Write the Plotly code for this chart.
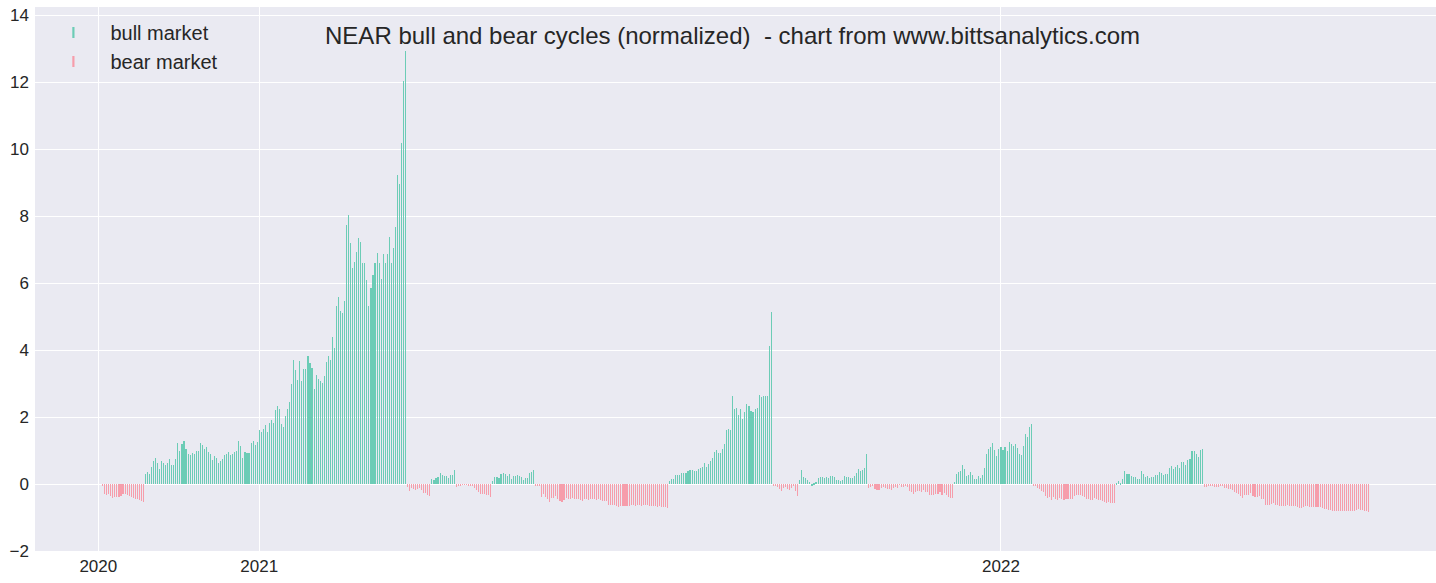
import pandas as pd
import plotly.graph_objects as go

# ---------------- data ----------------
start_date = "2020-10-16"

bear_1 = [-0.04, -0.30, -0.32, -0.30, -0.35, -0.42, -0.40, -0.38, -0.40, -0.36, -0.30,
          -0.30, -0.34, -0.37, -0.40, -0.43, -0.45, -0.46, -0.48, -0.50, -0.55]
bull_1 = [0.29, 0.35, 0.29, 0.52, 0.68, 0.77, 0.62, 0.45, 0.68, 0.62, 0.56, 0.62, 0.74, 0.56,
          0.58, 0.76, 1.24, 1.00, 1.19, 1.30, 1.06, 0.89, 0.86, 0.92, 0.89, 1.00, 1.00, 1.22,
          1.16, 1.06, 1.10, 0.95, 0.89, 0.73, 0.85, 0.79, 0.62, 0.70, 0.76, 0.86, 0.90, 0.95,
          0.86, 0.90, 0.95, 0.98, 1.30, 1.15, 0.79, 0.97, 0.92, 0.92, 1.24, 1.30, 1.18, 1.26,
          1.60, 1.55, 1.64, 1.76, 1.55, 1.82, 1.91, 1.82, 2.21, 2.33, 2.24, 1.79, 1.70, 2.03,
          2.24, 2.45, 2.99, 3.70, 3.40, 3.10, 3.67, 3.07, 3.43, 3.43, 3.82, 3.61, 3.46, 2.83,
          3.25, 3.13, 3.07, 3.01, 3.22, 3.64, 3.82, 3.70, 4.38, 4.06, 5.31, 5.58, 5.16, 5.10,
          5.46, 7.73, 8.03, 7.19, 6.45, 6.63, 6.93, 7.34, 7.22, 6.60, 6.60, 6.09, 5.31, 5.85,
          6.24, 6.60, 6.90, 6.60, 6.13, 6.87, 6.60, 6.87, 7.38, 6.60, 7.04, 7.67, 9.22, 8.96,
          10.20, 12.03, 12.93]
bear_2 = [-0.09, -0.21, -0.12, -0.15, -0.18, -0.15, -0.12, -0.18, -0.27, -0.27, -0.33, -0.36]
bull_2 = [0.15, 0.12, 0.18, 0.21, 0.33, 0.27, 0.24, 0.24, 0.18, 0.27, 0.27, 0.42]
bear_3 = [-0.09, -0.03, -0.03, -0.01, -0.005, -0.005, -0.03, -0.06, -0.04, -0.12, -0.18, -0.24,
          -0.30, -0.30, -0.30, -0.33, -0.33, -0.39]
bull_3 = [0.09, 0.21, 0.21, 0.18, 0.30, 0.33, 0.30, 0.24, 0.30, 0.15, 0.24, 0.24, 0.27, 0.24,
          0.21, 0.12, 0.18, 0.18, 0.33, 0.36, 0.42]
bear_4 = [-0.03, -0.03, -0.03, -0.39, -0.30, -0.39, -0.45, -0.54, -0.42, -0.42, -0.36, -0.45,
          -0.51, -0.54, -0.48, -0.42, -0.45, -0.45, -0.42, -0.45, -0.45, -0.45, -0.48, -0.51,
          -0.45, -0.45, -0.48, -0.45, -0.45, -0.45, -0.48, -0.45, -0.48, -0.51, -0.51, -0.51,
          -0.63, -0.63, -0.63, -0.63, -0.66, -0.69, -0.66, -0.66, -0.66, -0.66, -0.66, -0.63,
          -0.63, -0.66, -0.63, -0.63, -0.66, -0.63, -0.63, -0.63, -0.66, -0.66, -0.66, -0.66,
          -0.69, -0.66, -0.69, -0.69, -0.69, -0.72]
bull_4 = [0.09, 0.15, 0.15, 0.27, 0.27, 0.27, 0.33, 0.33, 0.33, 0.39, 0.42, 0.42, 0.39, 0.39,
          0.45, 0.48, 0.51, 0.63, 0.51, 0.60, 0.69, 0.78, 0.96, 1.02, 0.93, 0.93, 1.05, 1.19,
          1.61, 1.64, 1.61, 2.63, 2.24, 2.27, 2.06, 2.24, 1.94, 2.15, 2.39, 2.33, 2.18, 2.15,
          2.24, 2.27, 2.66, 2.60, 2.63, 2.63, 2.63, 4.12, 5.13]
bear_5 = [-0.06, -0.03, -0.09, -0.15, -0.21, -0.12, -0.09, -0.15, -0.18, -0.12, -0.06, -0.21,
          -0.36]
bull_5 = [0.12, 0.42, 0.21, 0.18, 0.12, 0.06, -0.03, 0.03, 0.06, 0.18, 0.21, 0.21, 0.18, 0.21,
          0.18, 0.24, 0.24, 0.21, 0.12, 0.12, 0.09, 0.12, 0.24, 0.21, 0.21, 0.18, 0.18, 0.24,
          0.33, 0.45, 0.39, 0.42, 0.48, 0.90]
bear_6 = [-0.13, -0.09, -0.06, -0.15, -0.18, -0.18, -0.12, -0.09, -0.12, -0.15, -0.15, -0.18,
          -0.12, -0.09, -0.12, -0.02, -0.09, -0.09, -0.03, -0.09, -0.21, -0.24, -0.30, -0.24,
          -0.21, -0.21, -0.24, -0.18, -0.24, -0.24, -0.33, -0.33, -0.33, -0.30, -0.30, -0.24,
          -0.33, -0.27, -0.33, -0.38, -0.42, -0.42]
bull_6 = [0.06, 0.30, 0.36, 0.39, 0.57, 0.45, 0.24, 0.27, 0.36, 0.27, 0.15, 0.15, 0.24, 0.18,
          0.27, 0.48, 0.90, 1.04, 1.10, 1.22, 1.01, 0.84, 1.04, 1.10, 1.01, 1.10, 0.99, 1.25,
          1.19, 1.13, 1.19, 1.07, 0.90, 0.87, 1.13, 1.49, 1.40, 1.70, 1.79]
bear_7 = [-0.03, -0.06, -0.12, -0.15, -0.21, -0.24, -0.37, -0.43, -0.40, -0.49, -0.40, -0.46,
          -0.49, -0.43, -0.46, -0.49, -0.46, -0.46, -0.46, -0.46, -0.37, -0.34, -0.34, -0.34,
          -0.37, -0.40, -0.46, -0.46, -0.49, -0.49, -0.43, -0.46, -0.49, -0.49, -0.52, -0.55,
          -0.58, -0.55, -0.58, -0.58, -0.58]
bull_7 = [0.03, 0.09, 0.01, 0.15, 0.39, 0.30, 0.30, 0.24, 0.22, 0.20, 0.14, 0.14, 0.39, 0.29,
          0.20, 0.24, 0.17, 0.20, 0.20, 0.27, 0.27, 0.36, 0.32, 0.27, 0.30, 0.30, 0.47, 0.53,
          0.44, 0.50, 0.56, 0.47, 0.65, 0.65, 0.56, 0.71, 0.74, 0.98, 1.00, 0.89, 0.80, 1.03,
          1.06]
bear_8 = [-0.09, -0.09, -0.06, -0.06, -0.06, -0.09, -0.09, -0.09, -0.06, -0.06, -0.12, -0.12,
          -0.15, -0.15, -0.18, -0.24, -0.27, -0.30, -0.36, -0.42, -0.33, -0.33, -0.33, -0.27,
          -0.36, -0.39, -0.39, -0.36, -0.45, -0.45, -0.63, -0.63, -0.63, -0.60, -0.57, -0.63,
          -0.63, -0.66, -0.66, -0.66, -0.66, -0.63, -0.66, -0.66, -0.66, -0.66, -0.69, -0.72,
          -0.72, -0.69, -0.66, -0.66, -0.69, -0.69, -0.69, -0.69, -0.69, -0.69, -0.72, -0.75,
          -0.75, -0.78, -0.78, -0.81, -0.81, -0.81, -0.81, -0.81, -0.81, -0.81, -0.81, -0.81,
          -0.81, -0.81, -0.81, -0.78, -0.75, -0.78, -0.78, -0.81, -0.81, -0.83]

cycle_order = [("bear", bear_1), ("bull", bull_1), ("bear", bear_2), ("bull", bull_2),
               ("bear", bear_3), ("bull", bull_3), ("bear", bear_4), ("bull", bull_4),
               ("bear", bear_5), ("bull", bull_5), ("bear", bear_6), ("bull", bull_6),
               ("bear", bear_7), ("bull", bull_7), ("bear", bear_8)]

tick_labels = ["2020", "2021", "2022"]
tick_dates = ["2020-10-13 20:00", "2021-01-01", "2022-01-01"]
chart_title = "NEAR bull and bear cycles (normalized)\u00a0 - chart from www.bittsanalytics.com"

# ---------------- build series ----------------
values, regimes = [], []
for regime, vals in cycle_order:
    values.extend(vals)
    regimes.extend([regime] * len(vals))
dates = pd.date_range(start_date, periods=len(values), freq="D")
df = pd.DataFrame({"date": dates, "value": values, "regime": regimes})

BULL = "rgb(108,204,182)"
BEAR = "rgb(246,157,171)"
FONT = "Liberation Sans, Arial, sans-serif"
TXT = "#262626"
BAR_W = 0.05 * 24 * 3600 * 1000   # thin bars -> drawn as 1px lines

# x-axis window (matches the reference scale: ~2.03 px per day)
PLOT_L, PLOT_W = 35, 1401
PX_PER_DAY = 2.0323
x_start = pd.Timestamp("2021-01-01") - pd.Timedelta(days=224.19 / PX_PER_DAY)
x_end = x_start + pd.Timedelta(days=PLOT_W / PX_PER_DAY)

fig = go.Figure()
for regime, color in (("bull", BULL), ("bear", BEAR)):
    sub = df[df.regime == regime]
    fig.add_trace(go.Bar(x=sub.date, y=sub.value, width=BAR_W,
                         marker=dict(color=color, line=dict(width=0)),
                         showlegend=False, hoverinfo="x+y"))
for name, color in (("bull market", BULL), ("bear market", BEAR)):
    fig.add_trace(go.Scatter(x=[None], y=[None], mode="markers", name=name,
                             marker=dict(symbol="line-ns", size=8,
                                         line=dict(color=color, width=2.2))))

fig.update_layout(
    width=1436, height=583,
    margin=dict(l=PLOT_L, r=0, t=7, b=32),
    paper_bgcolor="white", plot_bgcolor="#EAEAF2",
    font=dict(family=FONT, color=TXT, size=17),
    bargap=0, barmode="overlay",
    title=dict(text=chart_title, x=732.5 / 1436, xanchor="center",
               y=1 - 36 / 583, yanchor="middle", yref="container",
               font=dict(size=24, color=TXT, family=FONT)),
    legend=dict(x=0.001, y=0.989, xanchor="left", yanchor="top",
                bgcolor="rgba(0,0,0,0)", itemwidth=64,
                font=dict(size=20, color=TXT, family=FONT)),
    showlegend=True,
)
fig.update_xaxes(type="date", range=[x_start, x_end],
                 tickvals=tick_dates, ticktext=tick_labels, showgrid=True,
                 gridcolor="white", gridwidth=1.3, showline=False, zeroline=False,
                 ticks="", automargin=False, ticklabelstandoff=3,
                 tickfont=dict(size=17, color=TXT))
fig.update_yaxes(range=[-2, 14.25], dtick=2, tick0=0, showgrid=True, gridcolor="white",
                 gridwidth=1.3, zeroline=True, zerolinecolor="white", zerolinewidth=1.3,
                 showline=False, ticks="", automargin=False, ticklabelstandoff=5,
                 tickfont=dict(size=17, color=TXT))

fig.write_html("out.html", config={"displayModeBar": False},
               post_script="document.body.style.margin='0';document.body.style.overflow='hidden';")
